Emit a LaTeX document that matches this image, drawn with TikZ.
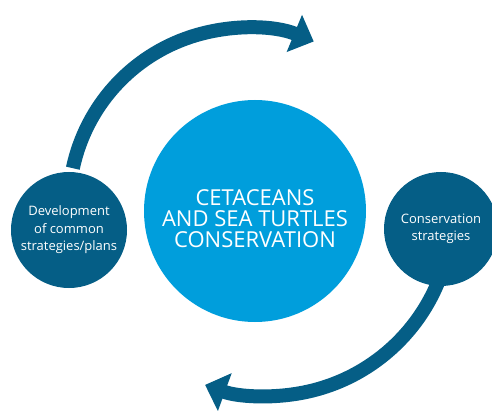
\documentclass[tikz,border=0pt]{standalone}
\usepackage{fontspec}
\setmainfont{Open Sans}
\usetikzlibrary{arrows.meta,calc}
\definecolor{hubblue}{RGB}{0,158,220}
\definecolor{deepblue}{RGB}{5,94,134}

\begin{document}
\begin{tikzpicture}[x=1pt,y=1pt,
  hub/.style={circle,fill=hubblue,minimum size=222pt,inner sep=0pt},
  sat/.style={circle,fill=deepblue,minimum size=116pt,inner sep=0pt,text=white,align=center,
    font=\fontsize{13}{17.5}\selectfont},
  hubtext/.style={text=white,align=center,font=\fontsize{22}{21}\selectfont},
  loop/.style={draw=deepblue,line width=14pt,-{Triangle[width=39pt,length=21pt]}}]
 \useasboundingbox (0,0) rectangle (492,410);
 \node[hub] (main) at (255,199) {};
 \node[hubtext] (title) at ([yshift=-8pt]main.center) {CETACEANS\\AND SEA TURTLES\\CONSERVATION};
 \draw[loop] ($(main)+(-9,6)+(168:177)$) arc[start angle=168,end angle=67.5,radius=177];
 \draw[loop] ($(main)+(13,-1)+(-18:184)$) arc[start angle=-18,end angle=-110,radius=184];
 \node[sat] (dev) at (69,180) {Development\\of common\\strategies/plans};
 \node[sat,minimum size=114pt] (cons) at (441,181) {Conservation\\strategies};
\end{tikzpicture}
\end{document}
